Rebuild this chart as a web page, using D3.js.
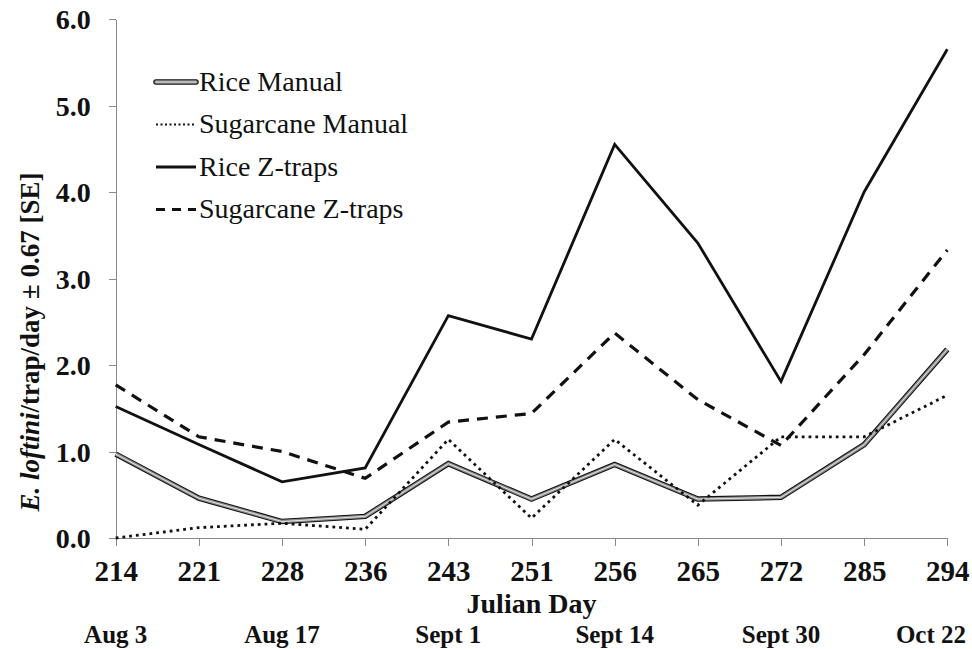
<!DOCTYPE html>
<html>
<head>
<meta charset="utf-8">
<script src="https://d3js.org/d3.v7.min.js"></script>
<style>
  body { margin: 0; background: #fff; }
  svg { display: block; }
  svg text { font-family: "Liberation Serif", "DejaVu Serif", serif; fill: #111; }
  .axis path, .axis line { stroke: #8a8a8a; stroke-width: 1; shape-rendering: crispEdges; }
  .axis text { font-weight: bold; }
</style>
</head>
<body>
<script>
// julian days on the x axis (evenly spaced categories)
var days = ["214", "221", "228", "236", "243", "251", "256", "265", "272", "285", "294"];
var yTicks = [0, 1, 2, 3, 4, 5, 6];

// mean E. loftini per trap per day
var riceManual      = [0.97, 0.46, 0.19, 0.25, 0.86, 0.45, 0.85, 0.45, 0.47, 1.08, 2.18];
var sugarcaneManual = [0.00, 0.12, 0.17, 0.10, 1.14, 0.23, 1.14, 0.38, 1.17, 1.17, 1.65];
var riceZtraps      = [1.52, 1.08, 0.65, 0.81, 2.57, 2.30, 4.55, 3.41, 1.81, 4.00, 5.65];
var sugarZtraps     = [1.77, 1.17, 1.00, 0.69, 1.34, 1.44, 2.37, 1.60, 1.07, 2.12, 3.33];

var seriesNames = ["Rice Manual", "Sugarcane Manual", "Rice Z-traps", "Sugarcane Z-traps"];

// calendar dates under some of the julian days
var dateDays   = ["214", "228", "243", "256", "272", "294"];
var dateLabels = ["Aug 3", "Aug 17", "Sept 1", "Sept 14", "Sept 30", "Oct 22"];

var W = 972, H = 649;
var serif = '"Liberation Serif", "DejaVu Serif", serif';
var svg = d3.select("body").append("svg").attr("width", W).attr("height", H);

var x = d3.scalePoint().domain(days).range([115.7, 947.3]);
var y = d3.scaleLinear().domain([0, 6]).range([538, 19]);

// y axis
var gy = svg.append("g").attr("class", "axis")
    .attr("transform", "translate(" + x.range()[0] + ",0)")
    .call(d3.axisLeft(y).tickValues(yTicks).tickFormat(d3.format(".1f"))
        .tickSize(7).tickSizeOuter(0).tickPadding(18));
gy.attr("font-family", serif);
gy.selectAll("text").style("font-family", serif).style("font-size", "28px").attr("dy", "0.34em");

// x axis
var gx = svg.append("g").attr("class", "axis")
    .attr("transform", "translate(0," + y(0) + ")")
    .call(d3.axisBottom(x).tickSize(8).tickSizeOuter(0));
gx.attr("font-family", serif);
gx.selectAll("text").style("font-family", serif).style("font-size", "29px").attr("y", 43).attr("dy", null);

// axis titles
svg.append("text")
    .attr("x", (x.range()[0] + x.range()[1]) / 2).attr("y", 613)
    .attr("text-anchor", "middle")
    .style("font-size", "28px").style("font-weight", "bold")
    .text("Julian Day");

var yt = svg.append("text")
    .attr("transform", "translate(39,342) rotate(-90)")
    .attr("text-anchor", "middle")
    .style("font-size", "27px").style("font-weight", "bold");
yt.append("tspan").style("font-style", "italic").text("E. loftini");
yt.append("tspan").text("/trap/day \u00b1 0.67 [SE]");

// date labels
svg.append("g").selectAll("text")
    .data(dateDays)
    .join("text")
    .attr("x", function(d, i) { return i == dateDays.length - 1 ? 966 : x(d); })
    .attr("y", 643)
    .attr("text-anchor", function(d, i) { return i == dateDays.length - 1 ? "end" : "middle"; })
    .style("font-size", "25px").style("font-weight", "bold")
    .text(function(d, i) { return dateLabels[i]; });

var line = d3.line()
    .x(function(d, i) { return x(days[i]); })
    .y(function(d) { return y(d); });

// series styles
var styles = [
  { layers: [{ c: "#111", w: 5.5 }, { c: "#8c8c8c", w: 3.4 }, { c: "#e6e6e6", w: 1 }], dash: null },
  { layers: [{ c: "#111", w: 2.8 }], dash: "2.8,4" },
  { layers: [{ c: "#111", w: 2.8 }], dash: null },
  { layers: [{ c: "#111", w: 3.2 }], dash: "11,8" }
];
var allSeries = [riceManual, sugarcaneManual, riceZtraps, sugarZtraps];

var plot = svg.append("g");
allSeries.forEach(function(vals, k) {
    styles[k].layers.forEach(function(l) {
        plot.append("path")
            .datum(vals)
            .attr("d", line)
            .attr("fill", "none")
            .attr("stroke", l.c)
            .attr("stroke-width", l.w)
            .attr("stroke-dasharray", styles[k].dash)
            .attr("stroke-linejoin", "miter");
    });
});

// legend
var legend = svg.append("g").attr("transform", "translate(156,82)");
seriesNames.forEach(function(name, k) {
    var row = legend.append("g").attr("transform", "translate(0," + (k * 42.5) + ")");
    styles[k].layers.forEach(function(l) {
        row.append("line")
            .attr("x1", 0).attr("x2", 40).attr("y1", 0).attr("y2", 0)
            .attr("stroke", l.c)
            .attr("stroke-width", k == 1 ? 1.8 : l.w)
            .attr("stroke-linecap", k == 0 ? "round" : "butt")
            .attr("stroke-dasharray", k == 1 ? "2,2.5" : (k == 3 ? "9,7" : null));
    });
    row.append("text")
        .attr("x", 43).attr("y", 0).attr("dy", "0.32em")
        .style("font-family", serif).style("font-size", "28px")
        .text(name);
});
</script>
</body>
</html>
